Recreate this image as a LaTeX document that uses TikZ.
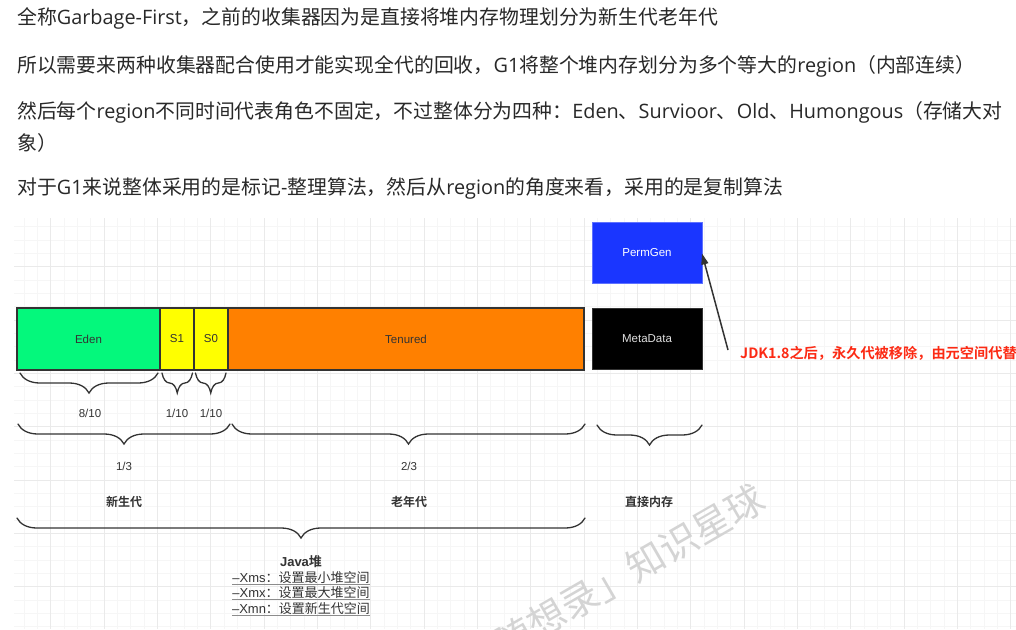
\documentclass[tikz,border=0pt]{standalone}
\usepackage{fontspec}
\setmainfont{Liberation Sans}
\newfontfamily\cjk[BoldFont={Noto Sans CJK SC Bold}]{Noto Sans CJK SC}
\newfontfamily\os{Open Sans}
\usetikzlibrary{decorations.pathreplacing,arrows.meta}
\definecolor{txt}{RGB}{40,40,40}
\definecolor{dia}{RGB}{51,51,51}
\definecolor{edengreen}{RGB}{4,248,124}
\definecolor{survyellow}{RGB}{255,255,0}
\definecolor{tenorange}{RGB}{255,128,0}
\definecolor{permblue}{RGB}{26,54,255}
\definecolor{redtxt}{RGB}{252,42,20}
\definecolor{gridminor}{RGB}{246,246,246}
\definecolor{gridmajor}{RGB}{234,234,234}
\tikzset{
  toptext/.style={anchor=west,inner sep=0pt,text=txt,font=\cjk\fontsize{19.85}{23}\selectfont},
  box/.style={draw=dia,line width=1.5pt,anchor=north west,inner sep=0pt,outer sep=0pt,text=dia,font=\fontsize{11.5}{14}\selectfont},
  lbl/.style={inner sep=0pt,text=dia,font=\fontsize{11.5}{14}\selectfont},
  clbl/.style={inner sep=0pt,text=dia,font=\cjk\bfseries\fontsize{12}{14}\selectfont},
  optline/.style={inner sep=0pt,anchor=base,text=dia,font=\fontsize{13}{15}\selectfont},
  uline/.style={draw=black!45,line width=1.4pt},
  curly/.style={draw=dia,line width=1.3pt,line cap=round,decorate,decoration={brace,mirror,amplitude=#1}},
  arr/.style={draw=dia,line width=1.5pt,-{Triangle[length=11pt,width=7pt]}}
}
\begin{document}
\begin{tikzpicture}[x=1pt,y=-1pt]
\useasboundingbox[fill=white] (0,0) rectangle (1016,629);
% grid
\begin{scope}
\clip (14,218) rectangle (1016,629);
\foreach \x in {24,37.333,...,1016} \draw[gridminor,line width=0.9pt] (\x,218) -- (\x,629);
\foreach \y in {226.667,240,...,629} \draw[gridminor,line width=0.9pt] (14,\y) -- (1016,\y);
\foreach \x in {50.667,104,...,1016} \draw[gridmajor,line width=0.9pt] (\x,218) -- (\x,629);
\foreach \y in {266.667,320,...,629} \draw[gridmajor,line width=0.9pt] (14,\y) -- (1016,\y);
\end{scope}
% watermark
\begin{scope}
\clip (0,0) rectangle (1016,629);
\node[rotate=30,text=black!17,inner sep=0pt,font=\cjk\fontsize{38}{40}\selectfont] (wm) at (580,599) {「代码随想录」知识星球};
\end{scope}
% top text
\node[toptext] (t1) at (17,18) {全称{\os Garbage-First}，之前的收集器因为是直接将堆内存物理划分为新生代老年代};
\node[toptext] (t2) at (17,66) {所以需要来两种收集器配合使用才能实现全代的回收，{\os G1}将整个堆内存划分为多个等大的{\os region}（内部连续）};
\node[toptext] (t3) at (17,112) {然后每个{\os region}不同时间代表角色不固定，不过整体分为四种：{\os Eden}、{\os Survioor}、{\os Old}、{\os Humongous}（存储大对};
\node[toptext] (t3b) at (17,143) {象）};
\node[toptext] (t4) at (17,188) {对于{\os G1}来说整体采用的是标记{\os -}整理算法，然后从{\os region}的角度来看，采用的是复制算法};
% heap boxes
\node[box,fill=edengreen,minimum width=143pt,minimum height=62pt] (eden) at (17,308) {Eden};
\node[box,fill=survyellow,minimum width=34pt,minimum height=62pt] (s1) at (160,308) {S1};
\node[box,fill=survyellow,minimum width=34pt,minimum height=62pt] (s0) at (194,308) {S0};
\node[box,fill=tenorange,minimum width=356pt,minimum height=62pt] (ten) at (228,308) {Tenured};
\node[box,draw=permblue!70!white,line width=0.8pt,fill=permblue,text=white,minimum width=110pt,minimum height=61pt] (perm) at (592,222) {PermGen};
\node[box,draw=black!80,line width=0.8pt,fill=black,text=white!88!black,minimum width=110pt,minimum height=61pt] (meta) at (592,308) {MetaData};
% red note and arrow
\node[anchor=west,inner sep=0pt,text=redtxt,font=\cjk\bfseries\fontsize{14.2}{17}\selectfont] (note) at (740,353) {JDK1.8之后，永久代被移除，由元空间代替};
\coordinate (astart) at ([xshift=-12pt,yshift=3pt]note.west);
\draw[arr] (astart) -- ([yshift=-1pt]perm.east);
% braces row 1
\draw[curly=20pt] (20,373) -- (158,373);
\draw[curly=20pt] (162,373) -- (192.5,373);
\draw[curly=20pt] (195.5,373) -- (226,373);
\node[lbl] (r810) at (90,413) {8/10};
\node[lbl] (r110a) at (177,413) {1/10};
\node[lbl] (r110b) at (211,413) {1/10};
% braces row 2
\draw[curly=20pt] (18,424) -- (230,424);
\draw[curly=20pt] (232,424) -- (585,424);
\draw[curly=20pt] (597,425) -- (702,425);
\node[lbl] (r13) at (124,466) {1/3};
\node[lbl] (r23) at (409,466) {2/3};
\node[clbl] (young) at (124,502) {新生代};
\node[clbl] (old) at (409,502) {老年代};
\node[clbl] (direct) at (649,502) {直接内存};
% big brace
\draw[curly=20pt] (17,518) -- (585,518);
\node[clbl,font=\cjk\bfseries\fontsize{13}{15}\selectfont] (java) at (301,562) {{\fontspec{Liberation Sans}Java}堆};
\node[optline] (xms) at (301,582) {–Xms{\cjk：设置最小堆空间}};
\node[optline] (xmx) at (301,597) {–Xmx{\cjk：设置最大堆空间}};
\node[optline] (xmn) at (301,613) {–Xmn{\cjk：设置新生代空间}};
\draw[uline] ([yshift=-2.5pt]xms.base west) -- ([yshift=-2.5pt]xms.base east);
\draw[uline] ([yshift=-2.5pt]xmx.base west) -- ([yshift=-2.5pt]xmx.base east);
\draw[uline] ([yshift=-2.5pt]xmn.base west) -- ([yshift=-2.5pt]xmn.base east);
\end{tikzpicture}
\end{document}
